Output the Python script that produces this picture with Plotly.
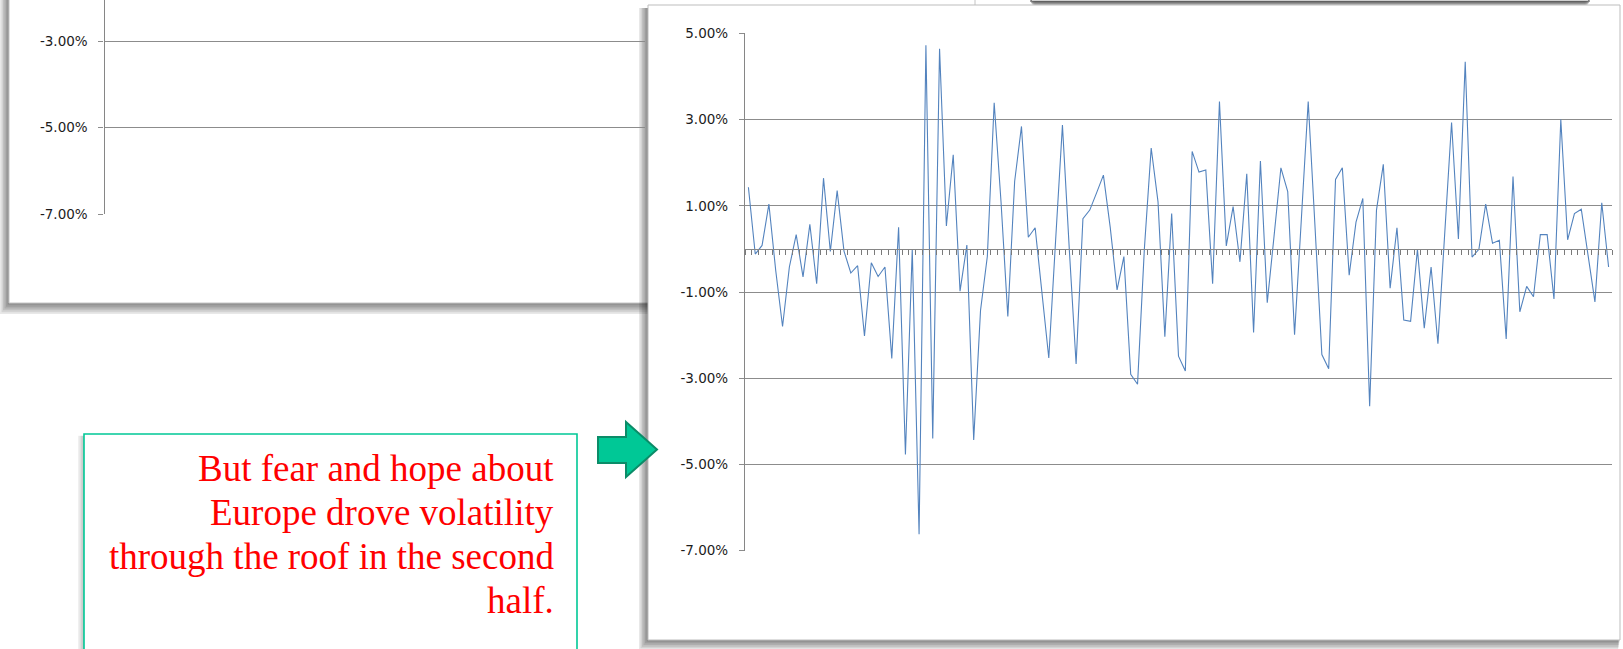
import plotly.graph_objects as go

W, H = 1623, 649

# Daily index returns (%) over the second half of the year
trading_day = list(range(1, 128))
daily_return_pct = [
    1.43, -0.12, 0.08, 1.04, -0.50, -1.80, -0.42, 0.33, -0.65, 0.57,
    -0.81, 1.64, -0.06, 1.35, -0.05, -0.56, -0.39, -2.02, -0.32, -0.64,
    -0.42, -2.54, 0.50, -4.77, -0.01, -6.62, 4.72, -4.40, 4.64, 0.53,
    2.18, -0.98, 0.09, -4.43, -1.43, -0.17, 3.39, 1.10, -1.57, 1.57,
    2.84, 0.27, 0.49, -1.00, -2.53, 0.20, 2.87, 0.00, -2.67, 0.70,
    0.90, 1.30, 1.71, 0.50, -0.95, -0.18, -2.91, -3.14, 0.00, 2.34,
    1.09, -2.04, 0.82, -2.49, -2.83, 2.26, 1.78, 1.83, -0.81, 3.42,
    0.07, 0.98, -0.30, 1.74, -1.94, 2.04, -1.25, 0.30, 1.88, 1.33,
    -1.99, 0.70, 3.42, 0.50, -2.45, -2.78, 1.61, 1.88, -0.61, 0.62,
    1.17, -3.65, 0.90, 1.96, -0.91, 0.49, -1.65, -1.68, -0.01, -1.84,
    -0.42, -2.20, 0.40, 2.93, 0.23, 4.34, -0.19, -0.01, 1.04, 0.13,
    0.20, -2.09, 1.68, -1.46, -0.87, -1.11, 0.33, 0.33, -1.16, 3.00,
    0.21, 0.82, 0.92, -0.10, -1.23, 1.07, -0.42,
]

ytick_vals = [-7, -5, -3, -1, 1, 3, 5]
ytick_text = [f"{v:.2f}%" for v in ytick_vals]
back_tick_vals = [-7, -5, -3]
back_tick_text = [f"{v:.2f}%" for v in back_tick_vals]

note_lines = [
    "But fear and hope about",
    "Europe drove volatility",
    "through the roof in the second",
    "half.",
]


def px(x):
    return x / W


def py(y):
    return 1 - y / H


GRID = "#8c8c8c"
AXIS = "#868686"
LABEL_FONT = dict(family="DejaVu Sans, Liberation Sans, sans-serif", size=13.5, color="#1c1c1c")

# front chart plot area (pixels)
F_LEFT, F_RIGHT, F_TOP, F_BOTTOM = 745, 1612, 33.3, 550.7
# back chart plot area (pixels); only its lower part is on the page
B_LEFT, B_RIGHT, B_BOTTOM = 104.5, 645, 214.3
B_PX_PER_PCT = 43.3
b_top_val = -7 + B_BOTTOM / B_PX_PER_PCT

fig = go.Figure()

fig.add_trace(go.Scatter(
    x=list(range(len(daily_return_pct))), y=daily_return_pct,
    mode="lines", line=dict(color="#5383be", width=1.1),
    xaxis="x", yaxis="y", showlegend=False, hoverinfo="skip",
))
# empty series so the back chart's axes are laid out
fig.add_trace(go.Scatter(x=[], y=[], xaxis="x2", yaxis="y2", showlegend=False))

y_dom = [py(F_BOTTOM), py(F_TOP)]
zero_pos = y_dom[0] + (0 - (-7)) / 12 * (y_dom[1] - y_dom[0])

fig.update_layout(
    width=W, height=H, autosize=False,
    margin=dict(l=0, r=0, t=0, b=0, pad=0, autoexpand=False),
    paper_bgcolor="white", plot_bgcolor="rgba(0,0,0,0)",
    xaxis=dict(
        domain=[px(F_LEFT), px(F_RIGHT)], range=[-0.5, len(daily_return_pct) - 0.5],
        anchor="free", position=zero_pos, automargin=False,
        showgrid=False, zeroline=False, showline=True, linecolor=AXIS, linewidth=1,
        ticks="outside", ticklen=5, tickwidth=1, tickcolor="#7a7a7a",
        tickmode="linear", tick0=-0.5, dtick=1, showticklabels=False,
        fixedrange=True,
    ),
    yaxis=dict(
        domain=y_dom, range=[-7, 5], anchor="x", automargin=False,
        tickmode="array", tickvals=ytick_vals, ticktext=ytick_text,
        showgrid=True, gridcolor=GRID, gridwidth=1.3, zeroline=False,
        showline=True, linecolor=AXIS, linewidth=1.3,
        ticks="outside", ticklen=5, tickcolor=GRID, ticklabelstandoff=8,
        tickfont=LABEL_FONT, fixedrange=True,
    ),
    xaxis2=dict(
        domain=[px(B_LEFT), px(B_RIGHT)], range=[0, 1], anchor="y2",
        visible=False, fixedrange=True, automargin=False,
    ),
    yaxis2=dict(
        domain=[py(B_BOTTOM), 1], range=[-7, b_top_val], anchor="x2", automargin=False,
        tickmode="array", tickvals=back_tick_vals, ticktext=back_tick_text,
        showgrid=True, gridcolor=GRID, gridwidth=1.3, zeroline=False,
        showline=True, linecolor=AXIS, linewidth=1.3,
        ticks="outside", ticklen=5, tickcolor=GRID, ticklabelstandoff=8,
        tickfont=LABEL_FONT, fixedrange=True,
    ),
)

shapes = []


def rect(x0, y0, x1, y1, fill, line_color=None, line_width=0, opacity=1.0):
    shapes.append(dict(
        type="rect", xref="paper", yref="paper", layer="below",
        x0=px(x0), x1=px(x1), y0=py(y1), y1=py(y0),
        fillcolor=fill, opacity=opacity,
        line=dict(color=line_color or fill, width=line_width),
    ))


def shadow(x0, y0, x1, y1, dx, dy, steps=6, strength=0.09):
    # soft drop shadow offset to the lower-left
    for i in range(steps, 0, -1):
        f = i / steps
        rect(x0 - dx * f, y0 + dy * 0.3, x1 - dx * f * 0.2, y1 + dy * f,
             "black", opacity=strength)


# panel at the top right (only its lower edge is on the page)
for i, op in enumerate([0.5, 0.4, 0.3, 0.2, 0.12, 0.06]):
    rect(1030 + i, -5, 1590 - i, 2 + i * 1.3, "#4a4a4a", opacity=op)
rect(1032, -5, 1588, 1.0, "#d0d0d0")

# back chart panel
shadow(9, -10, 975, 303, 9, 11)
rect(9, -10, 975, 303, "white", "#c4c4c4", 1)

# front chart panel
shadow(648, 5, 1620, 640, 9, 10)
rect(648, 5, 1620, 640, "white", "#bdbdbd", 1)

# note box
shadow(84, 434, 577, 700, 6, 6, steps=4, strength=0.06)
rect(84, 434, 577, 700, "white", "#00c896", 1.6)

fig.update_layout(shapes=shapes)

# arrow pointing at the chart
arrow_pts = [(598, 437), (626, 437), (626, 422), (657, 449.5), (626, 477), (626, 463), (598, 463)]
path = "M " + " L ".join(f"{px(x)},{py(y)}" for x, y in arrow_pts) + " Z"
fig.add_shape(type="path", path=path, xref="paper", yref="paper", layer="above",
              fillcolor="#00c896", line=dict(color="#0b8c68", width=2))

# note text, one annotation per line (single line spacing)
NOTE_SIZE = 37
baselines = [477, 521.5, 565.5, 609.5]
for line, base in zip(note_lines, baselines):
    fig.add_annotation(
        x=px(556), y=py(base - 0.85 * NOTE_SIZE), xref="paper", yref="paper",
        xanchor="right", yanchor="top", align="right", showarrow=False,
        text=line,
        font=dict(family="Liberation Serif, Times New Roman, serif", size=NOTE_SIZE, color="#ff0000"),
    )

fig.write_html("out.html", config={"displayModeBar": False})
